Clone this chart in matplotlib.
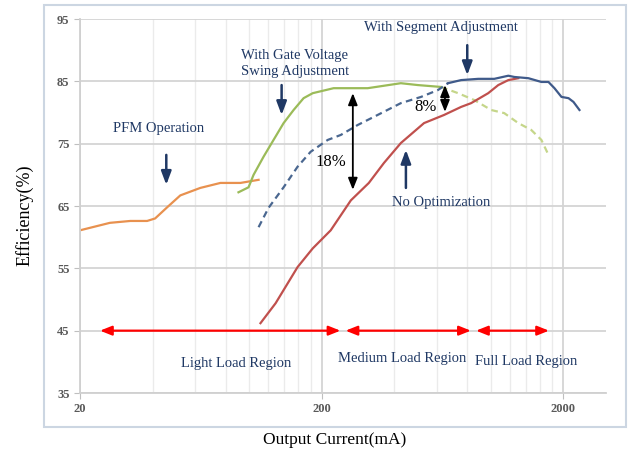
import matplotlib.pyplot as plt
from matplotlib.patches import Rectangle
from matplotlib.ticker import FixedLocator, NullFormatter

# data (x: output current in mA, y: efficiency in %)
pfm_x = [20, 26.6, 32.3, 37.9, 40.9, 45.9, 52.0, 62.9, 76.2, 92.2, 109.6]
pfm_y = [61.1, 62.3, 62.6, 62.6, 63.0, 64.8, 66.7, 67.9, 68.7, 68.7, 69.2]

gate_x = [90.5, 99.6, 104.5, 114.9, 126.4, 139.1, 153.0, 168.3, 183.6, 224, 310, 425, 500, 623]
gate_y = [67.2, 68.0, 70.0, 72.9, 75.6, 78.3, 80.4, 82.3, 83.1, 83.9, 83.9, 84.7, 84.4, 84.1]
gate_tail_x = [623, 733, 855, 1005, 1138, 1301, 1472, 1621, 1734]
gate_tail_y = [84.1, 83.1, 82.0, 80.4, 79.9, 78.3, 77.2, 75.6, 73.2]

seg_dash_x = [109.6, 120.5, 139.1, 158.9, 180.0, 211.8, 239.9, 281.9, 328.7, 425, 515, 605, 666]
seg_dash_y = [61.6, 64.7, 68.0, 71.3, 73.7, 75.6, 76.4, 78.0, 79.3, 81.5, 82.5, 83.6, 84.7]
seg_x = [666, 755, 888, 1035, 1183, 1253, 1433, 1621, 1734, 1836, 1963, 2099, 2200, 2330]
seg_y = [84.7, 85.2, 85.4, 85.4, 85.9, 85.7, 85.5, 84.9, 84.9, 83.9, 82.5, 82.3, 81.7, 80.4]

noopt_x = [111.6, 128.9, 158.9, 183.6, 217.9, 263.9, 313.3, 361.7, 425, 530, 641, 755, 830, 977, 1075, 1183, 1301]
noopt_y = [46.2, 49.4, 55.2, 58.2, 61.1, 65.9, 68.7, 71.9, 75.1, 78.3, 79.6, 80.9, 81.5, 83.1, 84.4, 85.2, 85.5]

# load regions (start, end) along y = 45
regions = [("Light Load Region", 24.2, 239, 88.8, 39.8),
           ("Medium Load Region", 251, 828, 429.6, 40.6),
           ("Full Load Region", 870, 1743, 1404, 40.1)]

navy = "#1F3864"
serif = "Liberation Serif"

fig = plt.figure(figsize=(6.34, 4.55), dpi=100)
ax = fig.add_axes([80 / 634, 62 / 455, 526 / 634, 374 / 455])

ax.plot(pfm_x, pfm_y, color="#E8914F", lw=1.6)
ax.plot(gate_x, gate_y, color="#9BBB59", lw=1.6)
ax.plot(gate_tail_x, gate_tail_y, color="#C5D68A", lw=1.6, ls=(0, (3, 2)))
ax.plot(seg_dash_x, seg_dash_y, color="#4A6790", lw=1.6, ls=(0, (3, 2)))
ax.plot(noopt_x, noopt_y, color="#C0504D", lw=1.6)
ax.plot(seg_x, seg_y, color="#3F5A8A", lw=1.6)

ax.set_xscale("log")
ax.set_xlim(20, 3000)
ax.set_ylim(35, 95)
ax.xaxis.set_major_locator(FixedLocator([20, 200, 2000]))
ax.xaxis.set_major_formatter(plt.FixedFormatter(["20", "200", "2000"]))
minor = [20 * k for k in range(2, 10)] + [200 * k for k in range(2, 10)]
ax.xaxis.set_minor_locator(FixedLocator(minor))
ax.xaxis.set_minor_formatter(NullFormatter())
ax.set_yticks(range(35, 96, 10))

ax.grid(True, which="major", color="#D4D4D4", lw=1.3)
ax.grid(True, which="minor", axis="x", color="#EBEBEB", lw=1.0)
ax.set_axisbelow(True)
for s in ["top", "right"]:
    ax.spines[s].set_visible(False)
for s in ["left", "bottom"]:
    ax.spines[s].set_color("#D0D0D0")
    ax.spines[s].set_linewidth(1.3)
ax.tick_params(which="major", color="#BFBFBF", length=4, labelsize=9, labelcolor="#595959")
ax.tick_params(which="minor", length=0)
for lab in ax.get_xticklabels() + ax.get_yticklabels():
    lab.set_fontfamily(serif)
    lab.set_fontweight("bold")

# annotations
txt = dict(color=navy, fontsize=10.5, family=serif, ha="center", va="center")
ax.text(154.5, 87.9, "With Gate Voltage\nSwing Adjustment", linespacing=1.3, **txt)
ax.text(42.2, 77.5, "PFM Operation", **txt)
ax.text(623, 93.6, "With Segment Adjustment", **txt)
ax.text(623, 65.5, "No Optimization", **txt)

arr = dict(arrowstyle="-|>,head_length=0.8,head_width=0.3", color=navy, lw=1.8,
           shrinkA=0, shrinkB=0)
ax.annotate("", xy=(136.5, 79.6), xytext=(136.5, 84.4), arrowprops=arr)
ax.annotate("", xy=(45.5, 68.4), xytext=(45.5, 73.2), arrowprops=arr)
ax.annotate("", xy=(800, 86.0), xytext=(800, 90.8), arrowprops=arr)
ax.annotate("", xy=(446, 74.0), xytext=(446, 67.9), arrowprops=arr)

blk = dict(arrowstyle="<|-|>,head_length=0.7,head_width=0.28", color="black", lw=1.3,
           shrinkA=0, shrinkB=0)
ax.annotate("", xy=(269, 83.1), xytext=(269, 67.6), arrowprops=blk)
ax.annotate("", xy=(647, 84.4), xytext=(647, 80.1), arrowprops=blk)
ax.text(218, 72.1, "18%", color="black", fontsize=12, family=serif, ha="center", va="center")
ax.text(540, 80.9, "8%", color="black", fontsize=12, family=serif, ha="center", va="center")

red = dict(arrowstyle="<|-|>,head_length=0.7,head_width=0.28", color="#FF0000", lw=1.6,
           shrinkA=0, shrinkB=0)
for name, x0, x1, tx, ty in regions:
    ax.annotate("", xy=(x0, 45), xytext=(x1, 45), arrowprops=red)
    ax.text(tx, ty, name, **txt)

# chart frame and outer axis titles
fig.patches.append(Rectangle((44 / 634, 28 / 455), 582 / 634, 422 / 455,
                             transform=fig.transFigure, fill=False,
                             edgecolor="#CCD6E2", lw=1.5))
fig.text(25 / 634, 0.527, "Efficiency(%)", rotation=90, fontsize=13,
         family=serif, ha="center", va="center")
fig.text(0.528, 15 / 455, "Output Current(mA)", fontsize=12.5,
         family=serif, ha="center", va="center")

fig.savefig("out.png", dpi=100)
